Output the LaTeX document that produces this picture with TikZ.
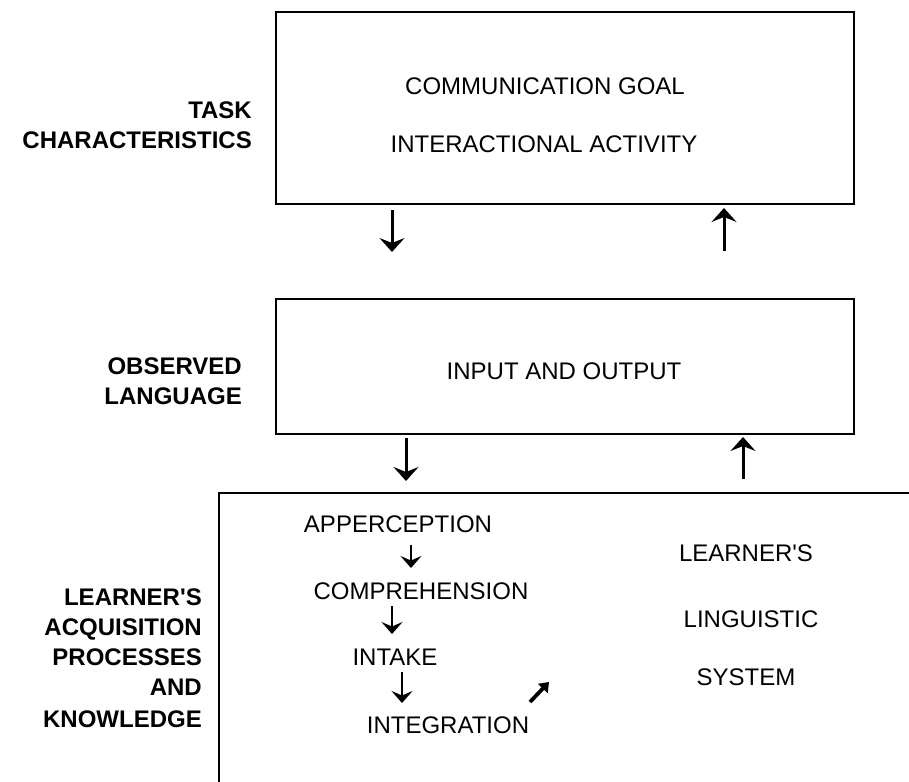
\documentclass[tikz,border=0pt]{standalone}
\usepackage{fontspec}
\setmainfont{Liberation Sans}
\usetikzlibrary{arrows.meta}
\begin{document}
\begin{tikzpicture}[x=1pt,y=-1pt,
  box/.style={draw, line width=1.8pt, inner sep=0pt, anchor=north west},
  txt/.style={font=\fontsize{24}{28}\selectfont, inner sep=0pt, anchor=base},
  lbl/.style={font=\fontsize{24}{28}\selectfont\bfseries, inner sep=0pt, anchor=base east},
  bigarr/.style={line width=3pt, -{Stealth[length=14pt,width=25pt,inset=5pt]}},
  smallarr/.style={line width=2.7pt, -{Stealth[length=12pt,width=21pt,inset=4.5pt]}},
  diagarr/.style={line width=3.8pt, -{Triangle[length=9pt,width=13pt]}}]
\useasboundingbox (0,0) rectangle (909,781);
\clip (0,0) rectangle (909,781);

% boxes
\node (task) [box, minimum width=578pt, minimum height=192pt] at (275,11) {};
\node (obs)  [box, minimum width=578pt, minimum height=135pt] at (275,298) {};
\node (lrn)  [box, minimum width=740pt, minimum height=340pt] at (218,492) {};

% box texts
\node (goal)  [txt] at (545,95)  {COMMUNICATION GOAL};
\node (inter) [txt] at (544,152) {INTERACTIONAL ACTIVITY};
\node (io)    [txt] at (564,379) {INPUT AND OUTPUT};
\node (app)   [txt] at (398,532) {APPERCEPTION};
\node (comp)  [txt] at (421,599) {COMPREHENSION};
\node (intk)  [txt] at (395,665) {INTAKE};
\node (integ) [txt] at (448,733) {INTEGRATION};
\node (ls1)   [txt] at (746,561) {LEARNER\textquotesingle S};
\node (ls2)   [txt] at (751,627) {LINGUISTIC};
\node (ls3)   [txt] at (746,685) {SYSTEM};

% side labels
\node (t1) [lbl] at (252,118) {TASK};
\node (t2) [lbl] at (252,148) {CHARACTERISTICS};
\node (o1) [lbl] at (242,374) {OBSERVED};
\node (o2) [lbl] at (242,404) {LANGUAGE};
\node (l1) [lbl] at (202,605) {LEARNER\textquotesingle S};
\node (l2) [lbl] at (202,635) {ACQUISITION};
\node (l3) [lbl] at (202,665) {PROCESSES};
\node (l4) [lbl] at (202,695) {AND};
\node (l5) [lbl] at (202,727) {KNOWLEDGE};

% arrow end points
\coordinate (a1s) at (392,210); \coordinate (a1e) at (392,252);
\coordinate (a2s) at (724,251); \coordinate (a2e) at (724,208);
\coordinate (a3s) at (406,438); \coordinate (a3e) at (406,481);
\coordinate (a4s) at (743,479); \coordinate (a4e) at (743,437);
\coordinate (b1s) at (411,545); \coordinate (b1e) at (411,568);
\coordinate (b2s) at (392,606); \coordinate (b2e) at (392,634);
\coordinate (b3s) at (402,672); \coordinate (b3e) at (402,703);
\coordinate (d1s) at (530,702); \coordinate (d1e) at (549,682);

\draw[bigarr] (a1s) -- (a1e);
\draw[bigarr] (a2s) -- (a2e);
\draw[bigarr] (a3s) -- (a3e);
\draw[bigarr] (a4s) -- (a4e);
\draw[smallarr] (b1s) -- (b1e);
\draw[smallarr] (b2s) -- (b2e);
\draw[smallarr] (b3s) -- (b3e);
\draw[diagarr] (d1s) -- (d1e);
\end{tikzpicture}
\end{document}
